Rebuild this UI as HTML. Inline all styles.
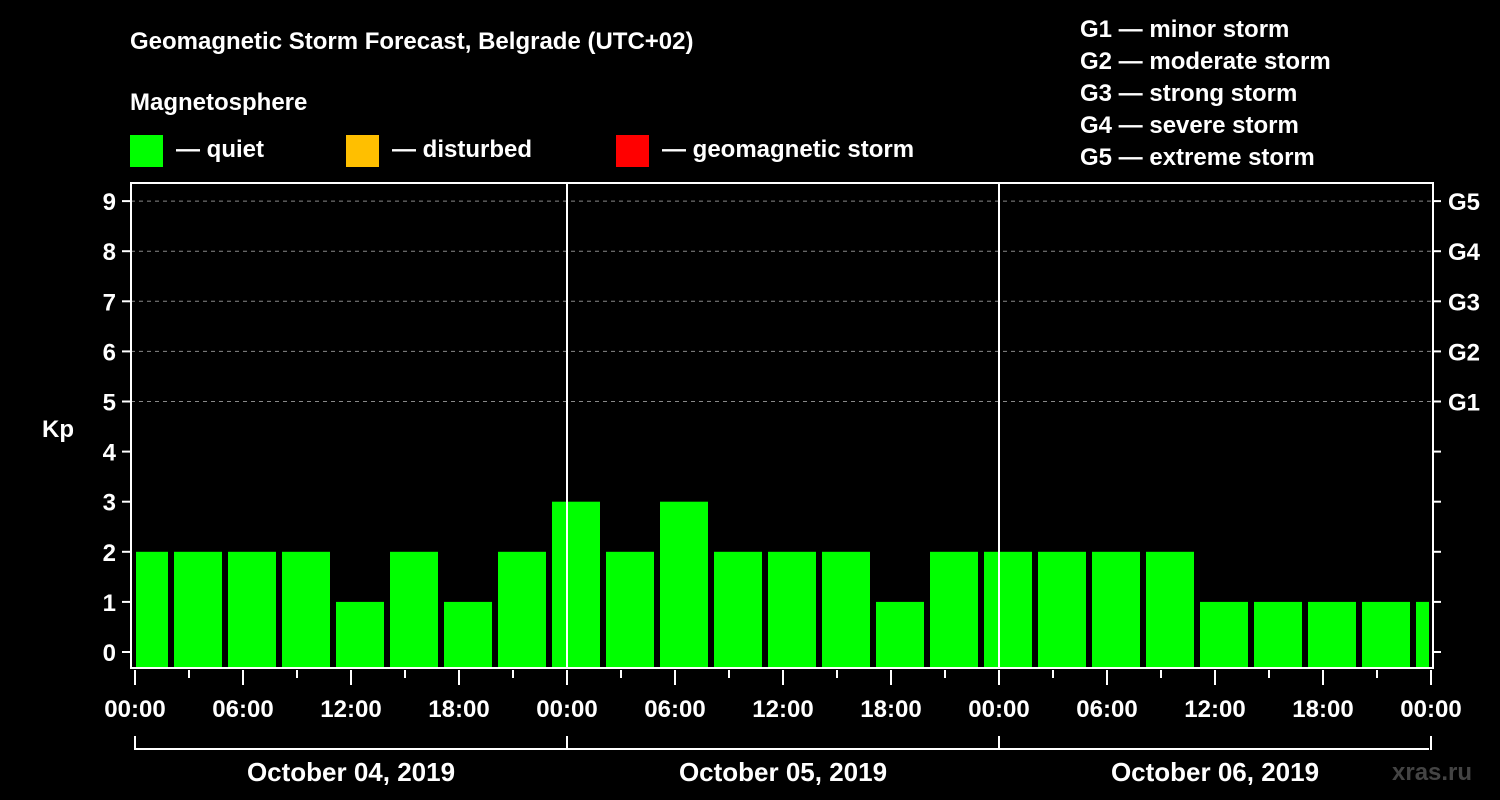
<!DOCTYPE html>
<html><head><meta charset="utf-8"><style>
body{margin:0;background:#000;}
svg{display:block;font-family:"Liberation Sans",Arial,sans-serif;font-weight:bold;fill:#fff;}
</style></head><body>
<svg id="chart" width="1500" height="800">
<text x="130" y="49" font-size="24">Geomagnetic Storm Forecast, Belgrade (UTC+02)</text>
<text x="130" y="110" font-size="24">Magnetosphere</text>
<rect x="130" y="135" width="33" height="32" fill="#00ff00"/>
<text x="176" y="157" font-size="24">— quiet</text>
<rect x="346" y="135" width="33" height="32" fill="#ffbf00"/>
<text x="392" y="157" font-size="24">— disturbed</text>
<rect x="616" y="135" width="33" height="32" fill="#ff0000"/>
<text x="662" y="157" font-size="24">— geomagnetic storm</text>
<g font-size="24">
<text x="1080" y="37">G1 — minor storm</text>
<text x="1080" y="69">G2 — moderate storm</text>
<text x="1080" y="101">G3 — strong storm</text>
<text x="1080" y="133">G4 — severe storm</text>
<text x="1080" y="165">G5 — extreme storm</text>
</g>
<text x="42" y="437" font-size="24">Kp</text>
<text x="1392" y="780" font-size="24" fill="#444" style="fill:#444">xras.ru</text>
<g id="grid"></g><g id="bars"></g><g id="axes"></g>
</svg>
<script>
const kpValues=[2,2,2,2,1,2,1,2,3,2,3,2,2,2,1,2,2,2,2,2,1,1,1,1,1];
const yTicks=[0,1,2,3,4,5,6,7,8,9];
const gLabels=["G1","G2","G3","G4","G5"];
const hourLabels=["00:00","06:00","12:00","18:00"];
const dayLabels=["October 04, 2019","October 05, 2019","October 06, 2019"];
const NS="http://www.w3.org/2000/svg";
const X0=135,X1=1429,L=131,R=1433,T=183,B=668;
const hx=h=>X0+h*18; // hours since Oct 4 00:00 local
const ky=v=>652-v*50.1;
function mk(tag,attrs,parent){const e=document.createElementNS(NS,tag);for(const k in attrs)e.setAttribute(k,attrs[k]);parent.appendChild(e);return e;}
const grid=document.getElementById('grid'),bars=document.getElementById('bars'),axes=document.getElementById('axes');
for(let v=5;v<=9;v++){const l=mk('line',{x1:L,x2:R,y1:ky(v),y2:ky(v),stroke:'#888','stroke-dasharray':'4,4'},grid);

}
kpValues.forEach((v,i)=>{
 let s=hx(-1+3*i)+3,e=hx(2+3*i)-3;
 s=Math.max(s,X0+1);e=Math.min(e,X1);
 const r=mk('rect',{x:s,y:ky(v),width:e-s,height:B-ky(v),fill:'#00ff00'},bars);
 
 
});
for(let d=1;d<3;d++){const l=mk('line',{x1:hx(24*d),x2:hx(24*d),y1:T,y2:B,stroke:'#fff','stroke-width':2},axes);

}
const frame=mk('rect',{x:L,y:T,width:R-L,height:B-T,fill:'none',stroke:'#fff','stroke-width':2},axes);


yTicks.forEach(v=>{
 mk('line',{x1:L-9,x2:L,y1:ky(v),y2:ky(v),stroke:'#fff','stroke-width':2},axes);
 mk('line',{x1:R,x2:R+8,y1:ky(v),y2:ky(v),stroke:'#fff','stroke-width':2},axes);
 const t=mk('text',{x:116,y:ky(v)+9,'font-size':24,'text-anchor':'end'},axes);t.textContent=v;
 
 
});
gLabels.forEach((g,i)=>{const t=mk('text',{x:1448,y:ky(5+i)+9,'font-size':24},axes);t.textContent=g;
 
 });
for(let h=0;h<=72;h+=3){mk('line',{x1:hx(h),x2:hx(h),y1:B+2,y2:h%6===0?B+17:B+10,stroke:'#fff','stroke-width':2},axes);}
for(let h=0;h<=72;h+=6){const t=mk('text',{x:hx(h),y:717,'font-size':24,'text-anchor':'middle'},axes);
 t.textContent=hourLabels[(h/6)%4];
 
 }
mk('line',{x1:X0,x2:X1,y1:749,y2:749,stroke:'#fff','stroke-width':2},axes);
for(let d=0;d<=3;d++)mk('line',{x1:hx(24*d),x2:hx(24*d),y1:736,y2:750,stroke:'#fff','stroke-width':2},axes);
dayLabels.forEach((s,d)=>{const t=mk('text',{x:hx(24*d+12),y:781,'font-size':26,'text-anchor':'middle'},axes);t.textContent=s;
 
 });
</script>
</body></html>
